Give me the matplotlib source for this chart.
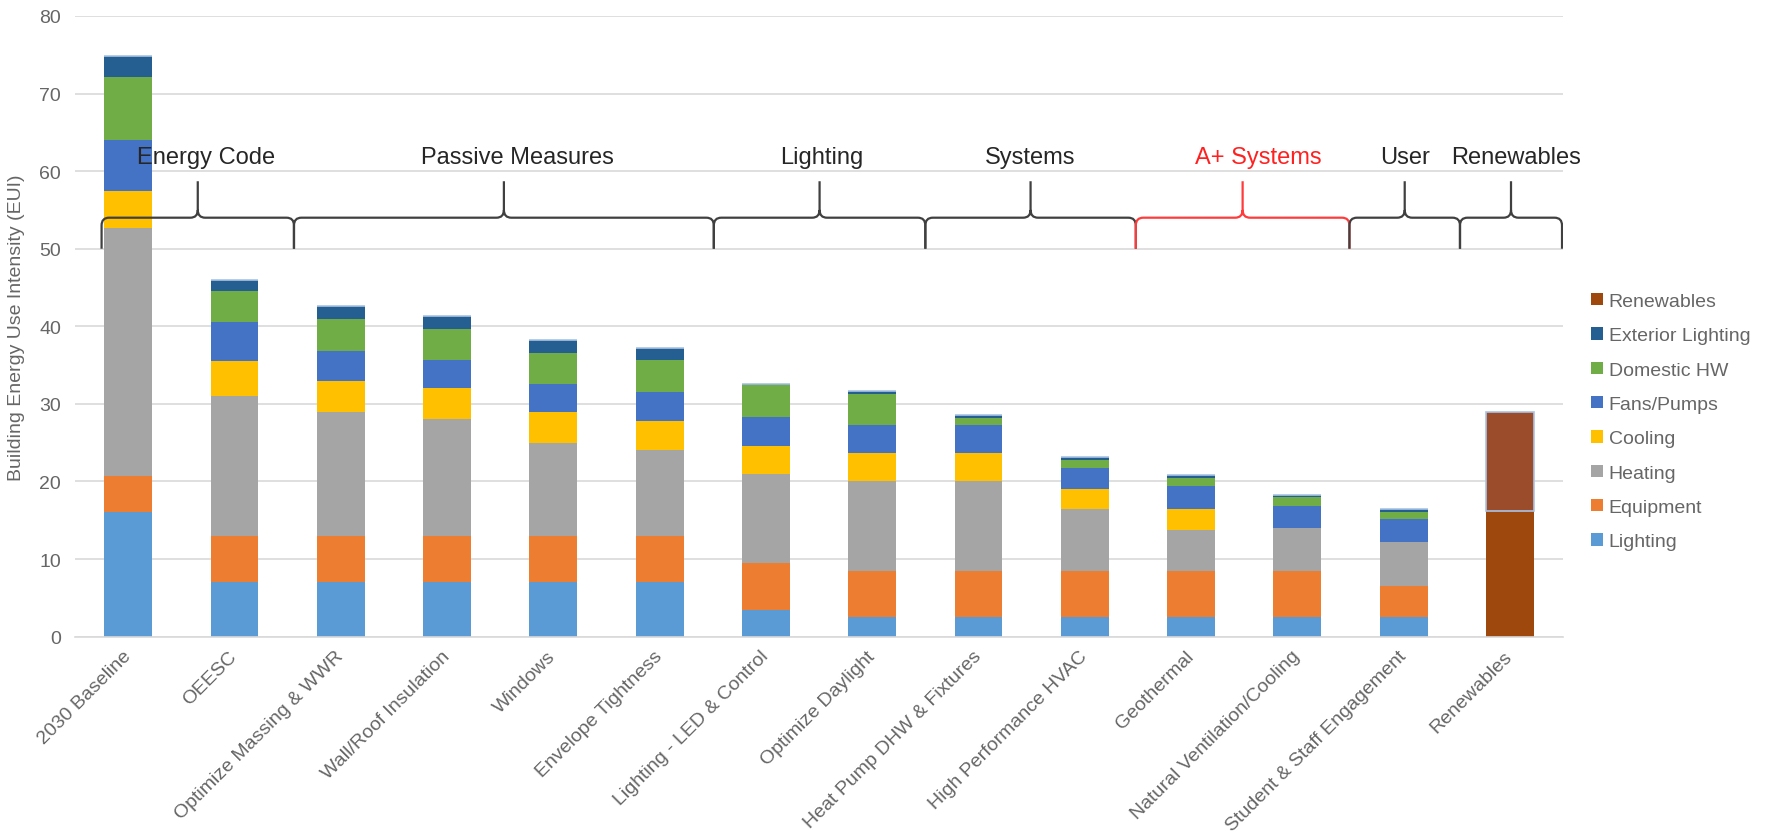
import matplotlib
matplotlib.use("Agg")
import matplotlib.pyplot as plt
from matplotlib.path import Path
from matplotlib.patches import PathPatch, Patch

plt.rcParams['font.family'] = ['Liberation Sans', 'DejaVu Sans']

categories = ["2030 Baseline", "OEESC", "Optimize Massing & WWR", "Wall/Roof Insulation",
              "Windows", "Envelope Tightness", "Lighting - LED & Control", "Optimize Daylight",
              "Heat Pump DHW & Fixtures", "High Performance HVAC", "Geothermal",
              "Natural Ventilation/Cooling", "Student & Staff Engagement", "Renewables"]

lighting  = [16.0, 7.0, 7.0, 7.0, 7.0, 7.0, 3.4, 2.5, 2.5, 2.5, 2.5, 2.5, 2.5, 0]
equipment = [4.7, 6.0, 6.0, 6.0, 6.0, 6.0, 6.1, 6.0, 6.0, 6.0, 6.0, 6.0, 4.0, 0]
heating   = [32.0, 18.0, 16.0, 15.0, 12.0, 11.0, 11.5, 11.6, 11.6, 7.9, 5.3, 5.5, 5.7, 0]
cooling   = [4.8, 4.5, 4.0, 4.0, 3.9, 3.8, 3.6, 3.6, 3.6, 2.6, 2.6, 0, 0, 0]
fans      = [6.5, 5.0, 3.8, 3.6, 3.7, 3.7, 3.7, 3.6, 3.6, 2.7, 3.0, 2.9, 2.9, 0]
dhw       = [8.2, 4.0, 4.1, 4.0, 4.0, 4.1, 4.1, 4.0, 0.9, 1.1, 1.1, 1.1, 1.0, 0]
ext_light = [2.6, 1.5, 1.7, 1.7, 1.6, 1.6, 0.2, 0.4, 0.4, 0.4, 0.3, 0.3, 0.3, 0]
renewables = [0, 0, 0, 0, 0, 0, 0, 0, 0, 0, 0, 0, 0, 16.2]
renew_offset = [0, 0, 0, 0, 0, 0, 0, 0, 0, 0, 0, 0, 0, 12.8]

series = [("Lighting", lighting, "#5B9BD5"),
          ("Equipment", equipment, "#ED7D31"),
          ("Heating", heating, "#A5A5A5"),
          ("Cooling", cooling, "#FFC000"),
          ("Fans/Pumps", fans, "#4472C4"),
          ("Domestic HW", dhw, "#70AD47"),
          ("Exterior Lighting", ext_light, "#255E91"),
          ("Renewables", renewables, "#9E480E")]

# brace groups: label, start, end (category units)
groups = ["Energy Code", "Passive Measures", "Lighting", "Systems", "A+ Systems", "User", "Renewables"]
group_start = [-0.25, 1.56, 5.51, 7.50, 9.48, 11.49, 12.53]
group_end   = [1.56, 5.51, 7.50, 9.48, 11.49, 12.53, 13.49]
label_shift = [0.08, 0.13, 0.02, 0.0, 0.15, 0.0, 0.05]
group_color = ["#404040", "#404040", "#404040", "#404040", "#FF3B3B", "#404040", "#404040"]
text_color  = ["#262626", "#262626", "#262626", "#262626", "#FF2020", "#262626", "#262626"]

fig = plt.figure(figsize=(17.69, 8.37), dpi=100)
ax = fig.add_axes([0.0424, 0.2382, 0.8412, 0.7415])

x = list(range(len(categories)))
bottom = [0.0] * len(categories)
handles = []
for name, vals, col in series:
    ax.bar(x, vals, 0.45, bottom=bottom, color=col, zorder=2)
    bottom = [b + v for b, v in zip(bottom, vals)]
    handles.append(Patch(facecolor=col, label=name))
ax.bar(x, renew_offset, 0.45, bottom=bottom, color="#9A4C2B",
       edgecolor="#A9C4E4", linewidth=1.2, zorder=2)

ax.set_xlim(-0.5, 13.5)
ax.set_ylim(0, 80)
ax.set_yticks(range(0, 90, 10))
ax.grid(axis="y", color="#D9D9D9", linewidth=1.2, zorder=0)
for s in ["top", "right", "left"]:
    ax.spines[s].set_visible(False)
ax.spines["bottom"].set_color("#D9D9D9")
ax.spines["bottom"].set_linewidth(1.2)
ax.tick_params(axis="both", length=0, labelsize=14, labelcolor="#666666")
ax.tick_params(axis="y", pad=10)
ax.tick_params(axis="x", pad=12)
ax.set_xticks(x)
ax.set_xticklabels(categories, rotation=45, ha="right", va="center", rotation_mode="anchor")
ax.set_ylabel("Building Energy Use Intensity (EUI)", fontsize=14, color="#666666", labelpad=10)


def brace(x0, x1, col):
    y_end, y_mid, y_tip = 50.0, 54.0, 58.7
    rx, ry = 0.07, 1.0
    xm = (x0 + x1) / 2
    verts = [(x0, y_end), (x0, y_mid - ry), (x0, y_mid), (x0 + rx, y_mid),
             (xm - rx, y_mid), (xm, y_mid), (xm, y_mid + ry), (xm, y_tip),
             (xm, y_mid + ry), (xm, y_mid), (xm + rx, y_mid),
             (x1 - rx, y_mid), (x1, y_mid), (x1, y_mid - ry), (x1, y_end)]
    codes = [Path.MOVETO, Path.LINETO, Path.CURVE3, Path.CURVE3,
             Path.LINETO, Path.CURVE3, Path.CURVE3, Path.LINETO,
             Path.MOVETO, Path.CURVE3, Path.CURVE3,
             Path.LINETO, Path.CURVE3, Path.CURVE3, Path.LINETO]
    ax.add_patch(PathPatch(Path(verts, codes), fill=False, edgecolor=col,
                           linewidth=1.6, zorder=5))


for g, s, e, sh, c, tc in zip(groups, group_start, group_end, label_shift, group_color, text_color):
    brace(s, e, c)
    ax.text((s + e) / 2 + sh, 61.8, g, ha="center", va="center", fontsize=17,
            color=tc, zorder=6)

fig.legend(handles=handles[::-1], loc="center left", bbox_to_anchor=(0.894, 0.495),
           frameon=False, fontsize=14, handlelength=0.6, handleheight=0.6,
           handletextpad=0.3, labelspacing=0.89, borderpad=0, labelcolor="#666666")

fig.savefig("out.png", dpi=100)
